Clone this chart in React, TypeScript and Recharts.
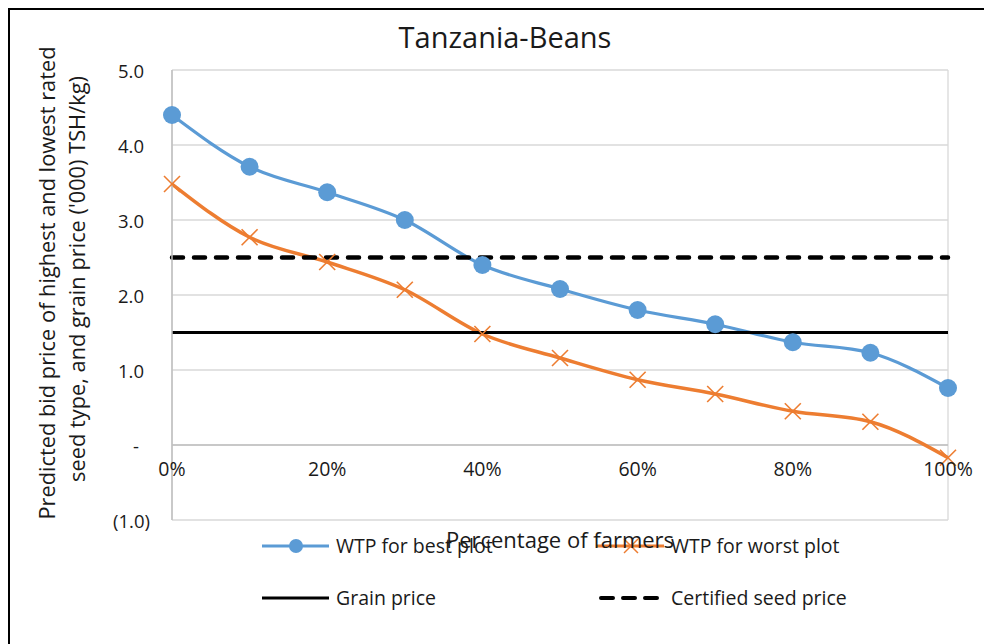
import React from 'react';
import { LineChart, Line, XAxis, YAxis, CartesianGrid, ReferenceLine, ReferenceDot, Legend } from 'recharts';

const farmerShare = [0, 10, 20, 30, 40, 50, 60, 70, 80, 90, 100];
const wtpBest = [4.4, 3.71, 3.37, 3.0, 2.4, 2.08, 1.8, 1.61, 1.37, 1.23, 0.76];
const wtpWorst = [3.48, 2.77, 2.44, 2.07, 1.48, 1.16, 0.87, 0.68, 0.45, 0.31, -0.17];
const grainPrice = [1.5, 1.5, 1.5, 1.5, 1.5, 1.5, 1.5, 1.5, 1.5, 1.5, 1.5];
const seedPrice = [2.5, 2.5, 2.5, 2.5, 2.5, 2.5, 2.5, 2.5, 2.5, 2.5, 2.5];
const xTicks = [0, 20, 40, 60, 80, 100];
const yTicks = [-1, 0, 1, 2, 3, 4, 5];

const BLUE = '#5B9BD5';
const ORANGE = '#ED7D31';
const FONT = '"Open Sans", sans-serif';

const data = farmerShare.map((x, i) => ({
  x,
  best: wtpBest[i],
  worst: wtpWorst[i],
  grain: grainPrice[i],
  seed: seedPrice[i],
}));

const XMark = (props: any) => {
  const { cx, cy, index } = props;
  if (cx == null || cy == null) return <g key={index} />;
  const s = 8;
  return (
    <g key={index}>
      <line x1={cx - s} y1={cy - s} x2={cx + s} y2={cy + s} stroke={ORANGE} strokeWidth={1.6} />
      <line x1={cx - s} y1={cy + s} x2={cx + s} y2={cy - s} stroke={ORANGE} strokeWidth={1.6} />
    </g>
  );
};

const YTick = (props: any) => {
  const { x, y, payload } = props;
  const v = payload.value;
  let label = v.toFixed(1);
  let dx = -28;
  if (v === 0) {
    label = '-';
    dx = -33;
  } else if (v < 0) {
    label = `(${Math.abs(v).toFixed(1)})`;
    dx = -22;
  }
  return (
    <text x={x + dx} y={y} textAnchor="end" dominantBaseline="central" fontSize={18.5} fill="#1a1a1a" fontFamily={FONT}>
      {label}
    </text>
  );
};

const YLabel = (props: any) => {
  const vb = props.viewBox || { x: 102, y: 60, width: 60, height: 450 };
  const cy = vb.y + vb.height / 2 - 12;
  const x1 = vb.x - 66;
  const x2 = vb.x - 36;
  return (
    <g>
      <text transform={`translate(${x1},${cy}) rotate(-90)`} textAnchor="middle" dominantBaseline="central" fontSize={21.8} fill="#1a1a1a" fontFamily={FONT}>
        Predicted bid price of highest and lowest rated
      </text>
      <text transform={`translate(${x2},${cy - 4}) rotate(-90)`} textAnchor="middle" dominantBaseline="central" fontSize={21.8} fill="#1a1a1a" fontFamily={FONT}>
        seed type, and grain price ('000) TSH/kg)
      </text>
    </g>
  );
};

const legendItems = [
  { label: 'WTP for best plot', color: BLUE, kind: 'dot', left: 252, top: 536 },
  { label: 'WTP for worst plot', color: ORANGE, kind: 'x', left: 587, top: 536 },
  { label: 'Grain price', color: '#000', kind: 'solid', left: 252, top: 588 },
  { label: 'Certified seed price', color: '#000', kind: 'dash', left: 587, top: 588 },
];

const LegendContent = () => (
  <div style={{ position: 'relative', width: 0, height: 0 }}>
    {legendItems.map((it) => (
      <div key={it.label} style={{ position: 'absolute', left: it.left, top: it.top - 12, height: 24, display: 'flex', alignItems: 'center', whiteSpace: 'nowrap' }}>
        <svg width={68} height={24} style={{ display: 'block' }}>
          {it.kind === 'dash' ? (
            <line x1={4} y1={12} x2={64} y2={12} stroke="#000" strokeWidth={4} strokeDasharray="12 10" strokeLinecap="round" />
          ) : (
            <line x1={0} y1={12} x2={67} y2={12} stroke={it.color} strokeWidth={3} />
          )}
          {it.kind === 'dot' && <circle cx={34} cy={12} r={7} fill={BLUE} />}
          {it.kind === 'x' && (
            <g>
              <line x1={27} y1={5} x2={41} y2={19} stroke={ORANGE} strokeWidth={1.5} />
              <line x1={27} y1={19} x2={41} y2={5} stroke={ORANGE} strokeWidth={1.5} />
            </g>
          )}
        </svg>
        <span style={{ marginLeft: 6, fontSize: 19.5, fontFamily: FONT, color: '#1a1a1a', lineHeight: '24px' }}>{it.label}</span>
      </div>
    ))}
  </div>
);

export default function App() {
  return (
    <div
      style={{
        position: 'relative',
        width: 984,
        height: 636,
        borderTop: '2px solid #000',
        borderLeft: '2px solid #000',
        boxSizing: 'border-box',
        background: '#fff',
        fontFamily: FONT,
        overflow: 'hidden',
      }}
    >
      <div style={{ position: 'absolute', left: 4, width: 982, top: 9, textAlign: 'center', fontSize: 29, lineHeight: '36px', color: '#1a1a1a' }}>
        Tanzania-Beans
      </div>
      <LineChart width={982} height={634} data={data} margin={{ top: 60, right: 44, left: 102, bottom: 123 }}>
        <CartesianGrid stroke="#D9D9D9" strokeWidth={1.3} />
        <XAxis
          type="number"
          dataKey="x"
          domain={[0, 100]}
          ticks={xTicks}
          tick={false}
          tickLine={false}
          axisLine={false}
          height={1}
        />
        <YAxis
          type="number"
          domain={[-1, 5]}
          ticks={yTicks}
          interval={0}
          width={60}
          tickSize={0}
          tickMargin={0}
          tickLine={false}
          axisLine={{ stroke: '#BFBFBF', strokeWidth: 1.5 }}
          tick={<YTick />}
          label={<YLabel />}
        />
        <ReferenceLine y={0} stroke="#BFBFBF" strokeWidth={1.5} />
        {xTicks.map((t) => (
          <ReferenceDot
            key={t}
            x={t}
            y={0}
            r={0}
            fill="none"
            stroke="none"
            label={{ value: `${t}%`, position: 'bottom', offset: 17, fontSize: 19.5, fill: '#1a1a1a', fontFamily: FONT }}
          />
        ))}
        <Line
          type="monotone"
          dataKey="best"
          stroke={BLUE}
          strokeWidth={3.2}
          dot={{ r: 9, fill: BLUE, stroke: BLUE, strokeWidth: 0 }}
          isAnimationActive={false}
        />
        <Line
          type="monotone"
          dataKey="worst"
          stroke={ORANGE}
          strokeWidth={3.5}
          dot={<XMark />}
          isAnimationActive={false}
        />
        <Line type="linear" dataKey="grain" stroke="#000" strokeWidth={3} dot={false} isAnimationActive={false} />
        <Line
          type="linear"
          dataKey="seed"
          stroke="#000"
          strokeWidth={4.5}
          strokeDasharray="11 11"
          strokeLinecap="round"
          dot={false}
          isAnimationActive={false}
        />
        <Legend
          content={<LegendContent />}
          wrapperStyle={{ position: 'absolute', left: 0, top: 0, width: 0, height: 0, bottom: 'auto', overflow: 'visible' }}
        />
      </LineChart>
      <div style={{ position: 'absolute', left: 400, width: 300, top: 516, textAlign: 'center', fontSize: 22, lineHeight: '26px', color: '#1a1a1a' }}>
        Percentage of farmers
      </div>
    </div>
  );
}
